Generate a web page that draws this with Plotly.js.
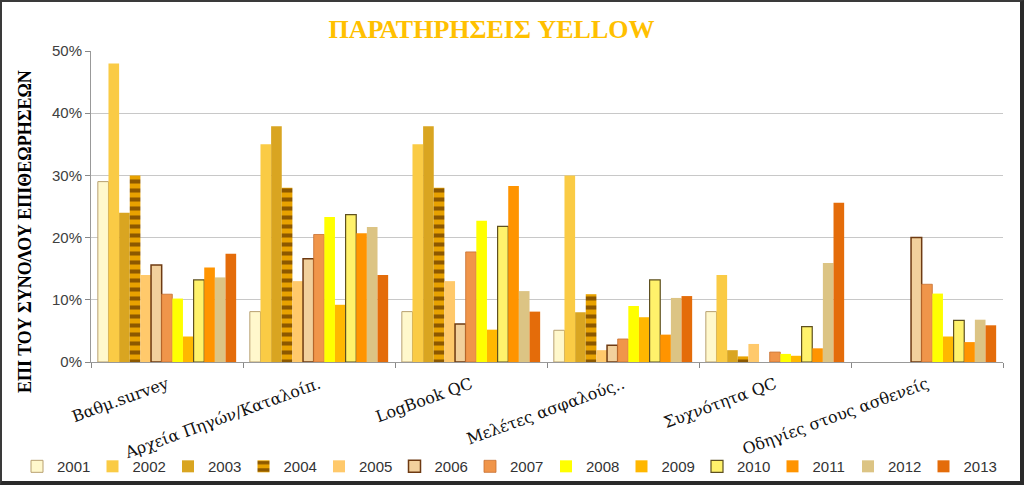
<!DOCTYPE html>
<html>
<head>
<meta charset="utf-8">
<script src="https://cdn.plot.ly/plotly-3.0.1.min.js"></script>
<style>
  html, body { margin: 0; padding: 0; background: #fff; }
  #wrap { position: relative; width: 1024px; height: 485px; box-sizing: border-box;
          border: 2px solid #3a3a3a; border-right: 4px solid #2a2a2a; border-bottom: 4px solid #2a2a2a; }
  #chart { position: absolute; left: -2px; top: -2px; width: 1024px; height: 485px; }
</style>
</head>
<body>
<div id="wrap"><div id="chart"></div></div>
<script>
const categories = ["Βαθμ.survey", "Αρχεία Πηγών/Καταλοίπ.", "LogBook QC", "Μελέτες ασφαλούς..", "Συχνότητα QC", "Οδηγίες στους ασθενείς"];
const years = ["2001","2002","2003","2004","2005","2006","2007","2008","2009","2010","2011","2012","2013"];
const v2001 = [0.290, 0.081, 0.081, 0.051, 0.081, null];
const v2002 = [0.480, 0.350, 0.350, 0.300, 0.140, null];
const v2003 = [0.240, 0.379, 0.379, 0.080, 0.019, null];
const v2004 = [0.300, 0.280, 0.280, 0.109, 0.009, null];
const v2005 = [0.140, 0.130, 0.130, 0.019, 0.029, null];
const v2006 = [0.156, 0.166, 0.061, 0.027, null, 0.200];
const v2007 = [0.109, 0.205, 0.177, 0.037, 0.016, 0.125];
const v2008 = [0.102, 0.233, 0.227, 0.090, 0.013, 0.110];
const v2009 = [0.041, 0.092, 0.052, 0.072, 0.010, 0.041];
const v2010 = [0.132, 0.237, 0.218, 0.132, 0.057, 0.067];
const v2011 = [0.152, 0.207, 0.283, 0.044, 0.022, 0.032];
const v2012 = [0.136, 0.217, 0.114, 0.103, 0.159, 0.068];
const v2013 = [0.174, 0.140, 0.081, 0.106, 0.256, 0.059];
const seriesValues = [v2001,v2002,v2003,v2004,v2005,v2006,v2007,v2008,v2009,v2010,v2011,v2012,v2013];

const fills = ["#FFF8CC","#FACB45","#D9A521","#E6A000","#FFC96B","#F2D09C","#F0954A","#FFFF00","#FFB700","#FFF26B","#FF9400","#DCC484","#E46C0A"];
const lines = ["#B8A070","#E0A82A","#C09018","#8A5A00","#FFC96B","#6E3A12","#C87030","#FFFF00","#FFB700","#5E5020","#FF9400","#DCC484","#E46C0A"];
const lineW = [1,0,0,0,0,1.5,0.8,0,0,1.2,0,0,0];

const traces = years.map((y, i) => {
  const t = {
    type: "bar", name: y, x: categories, y: seriesValues[i],
    marker: { color: fills[i], line: { color: lines[i], width: lineW[i] } },
    hoverinfo: "name+y",
    legend: i < 7 ? "legend" : "legend2"
  };
  if (y === "2004") {
    t.marker.pattern = { shape: "-", bgcolor: "#E8A200", fgcolor: "#8C5800", size: 9, solidity: 0.45, fillmode: "replace" };
  }
  return t;
});

const legendBase = {
  orientation: "h", xanchor: "left", xref: "container", y: 0.038, yanchor: "middle", yref: "container",
  font: { family: "Liberation Sans", size: 15, color: "#333" },
  entrywidth: 30.5, entrywidthmode: "pixels", itemwidth: 30, traceorder: "normal", bgcolor: "rgba(0,0,0,0)"
};

const layout = {
  width: 1024, height: 485,
  margin: { l: 91, r: 21, t: 51, b: 123 },
  paper_bgcolor: "rgba(0,0,0,0)", plot_bgcolor: "#fff",
  barmode: "group", bargap: 0.09, bargroupgap: 0,
  title: { text: "ΠΑΡΑΤΗΡΗΣΕΙΣ YELLOW", font: { family: "Liberation Serif", size: 26, color: "#FFC000", weight: "bold" },
           x: 0.48, xanchor: "center", xref: "container", y: 0.94, yanchor: "middle", yref: "container" },
  xaxis: {
    type: "category", tickson: "boundaries", ticks: "outside", ticklen: 5, tickcolor: "#888",
    showline: true, linecolor: "#999", linewidth: 1, tickangle: -20, ticklabelstandoff: 6,
    tickfont: { family: "DejaVu Serif", size: 16, color: "#111" }, showgrid: false
  },
  yaxis: {
    range: [0, 0.5], dtick: 0.1, tickformat: ".0%", ticks: "outside", ticklen: 5, tickcolor: "#888",
    showline: true, linecolor: "#999", linewidth: 1, gridcolor: "#C8C8C8", gridwidth: 1, zeroline: false,
    tickfont: { family: "Liberation Sans", size: 15, color: "#404040" }
  },
  annotations: [{
    text: "ΕΠΙ ΤΟΥ ΣΥΝΟΛΟΥ ΕΠΙΘΕΩΡΗΣΕΩΝ", textangle: -90, showarrow: false,
    xref: "paper", yref: "paper", x: (25 - 91) / 912, y: (362 - 232) / 311, xanchor: "center", yanchor: "middle",
    font: { family: "Liberation Serif", size: 18, color: "#000", weight: "bold" }
  }],
  legend: Object.assign({}, legendBase, { x: 17 / 1024 }),
  legend2: Object.assign({}, legendBase, { x: 546 / 1024 }),
  showlegend: true
};

Plotly.newPlot("chart", traces, layout, { displayModeBar: false, staticPlot: true });
</script>
</body>
</html>
